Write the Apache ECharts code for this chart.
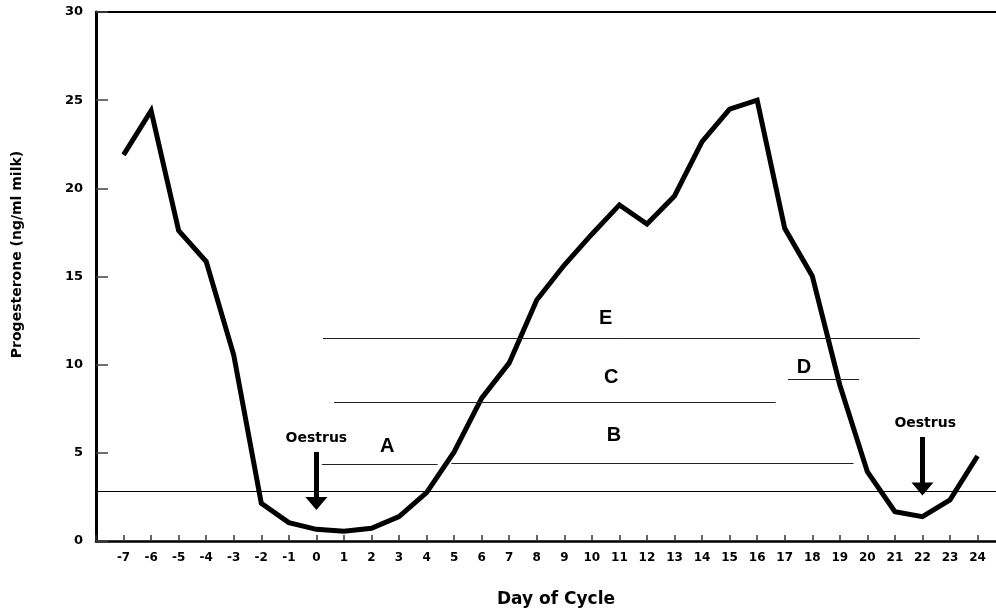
<!DOCTYPE html>
<html>
<head>
<meta charset="utf-8">
<script src="https://cdn.jsdelivr.net/npm/echarts@6/dist/echarts.min.js"></script>
<style>
  html, body { margin: 0; padding: 0; background: #fff; }
  #chart { width: 996px; height: 613px; }
</style>
</head>
<body>
<div id="chart"></div>
<script>
const days = [-7, -6, -5, -4, -3, -2, -1, 0, 1, 2, 3, 4, 5, 6, 7, 8, 9, 10, 11, 12, 13, 14, 15, 16, 17, 18, 19, 20, 21, 22, 23, 24];
const progesterone = [21.9, 24.4, 17.6, 15.85, 10.55, 2.14, 1.04, 0.66, 0.55, 0.72, 1.38, 2.74, 5.05, 8.1, 10.1, 13.67, 15.65, 17.4, 19.06, 17.98, 19.57, 22.65, 24.49, 25.0, 17.73, 15.03, 8.85, 3.93, 1.66, 1.38, 2.33, 4.82];

// threshold line across the whole cycle
const baselineLevel = 2.8;

// phase bars: label, start day, end day, level
const phaseNames = ['A', 'B', 'C', 'D', 'E'];
const phaseStart = [0.2, 4.9, 0.64, 17.12, 0.24];
const phaseEnd = [4.4, 19.5, 16.67, 19.7, 21.9];
const phaseLevel = [4.35, 4.4, 7.85, 9.15, 11.48];
const phaseLabelDay = [2.57, 10.8, 10.7, 17.7, 10.5];
const phaseLabelLevel = [5.35, 5.96, 9.3, 9.83, 12.6];

// oestrus arrows
const oestrusDays = [0, 22];
const arrowTop = [5.05, 5.9];
const arrowTip = [2.13, 2.95];
const oestrusLabelDay = [0, 22.1];
const oestrusLabelLevel = [5.84, 6.69];

const chart = echarts.init(document.getElementById('chart'));

const FONT = 'DejaVu Sans';

const seriesData = days.map((d, i) => [d, progesterone[i]]);

const thin = { type: 'solid', width: 1, color: '#222' };

const markLines = [
  [
    { coord: [-8, baselineLevel], lineStyle: { type: 'solid', width: 1, color: '#000' } },
    { coord: [24.67, baselineLevel] }
  ]
];
phaseNames.forEach((n, i) => {
  markLines.push([
    { coord: [phaseStart[i], phaseLevel[i]], lineStyle: thin },
    { coord: [phaseEnd[i], phaseLevel[i]] }
  ]);
});
oestrusDays.forEach((d, i) => {
  markLines.push([
    { coord: [d, arrowTop[i]], symbol: 'none', lineStyle: { type: 'solid', width: 5, color: '#000', cap: 'butt' } },
    { coord: [d, arrowTip[i]], symbol: 'triangle', symbolSize: [22, 13] }
  ]);
});

const textData = phaseNames.map((n, i) => ({
  name: n,
  value: [phaseLabelDay[i], phaseLabelLevel[i]],
  label: { fontSize: 20, fontWeight: 'bold', fontFamily: 'Liberation Sans', color: '#000' }
}));
oestrusDays.forEach((d, i) => {
  textData.push({
    name: 'Oestrus',
    value: [oestrusLabelDay[i], oestrusLabelLevel[i]],
    label: { fontSize: 14, fontWeight: 'bold', fontFamily: FONT, color: '#000' }
  });
});

const option = {
  animation: false,
  grid: { left: 96, right: 0, top: 12, bottom: 72, outerBoundsMode: 'none' },
  xAxis: [
    {
      type: 'value',
      min: -8,
      max: 24.67,
      interval: 1,
      name: 'Day of Cycle',
      nameLocation: 'middle',
      nameGap: 50,
      nameTextStyle: { fontFamily: FONT, fontWeight: 'bold', fontSize: 17, color: '#000', padding: [0, 0, 0, 20] },
      axisLine: { onZero: false, lineStyle: { color: '#000', width: 2.5 } },
      axisTick: { inside: true, length: 6, lineStyle: { color: '#333', width: 1.5 } },
      axisLabel: {
        margin: 11,
        fontFamily: FONT,
        fontWeight: 'bold',
        fontSize: 12,
        color: '#000',
        showMaxLabel: false,
        formatter: v => (Number.isInteger(v) && v > -8 ? String(v) : '')
      },
      splitLine: { show: false }
    },
    {
      type: 'value',
      position: 'top',
      min: -8,
      max: 24.67,
      axisLine: { show: true, onZero: false, lineStyle: { color: '#000', width: 2 } },
      axisTick: { show: false },
      axisLabel: { show: false },
      splitLine: { show: false }
    }
  ],
  yAxis: {
    type: 'value',
    min: 0,
    max: 30,
    interval: 5,
    name: 'Progesterone (ng/ml milk)',
    nameLocation: 'middle',
    nameGap: 72,
    nameTextStyle: { fontFamily: FONT, fontWeight: 'bold', fontSize: 14, color: '#000', padding: [0, 0, 0, 44] },
    axisLine: { show: true, onZero: false, lineStyle: { color: '#000', width: 3 } },
    axisTick: { inside: true, length: 12, lineStyle: { color: '#444', width: 1.5 } },
    axisLabel: { margin: 13, fontFamily: FONT, fontWeight: 'bold', fontSize: 13, color: '#000' },
    splitLine: { show: false }
  },
  series: [
    {
      type: 'line',
      data: seriesData,
      symbol: 'none',
      lineStyle: { color: '#000', width: 5, join: 'miter' },
      markLine: {
        silent: true,
        symbol: 'none',
        label: { show: false },
        data: markLines
      },
      z: 3
    },
    {
      type: 'scatter',
      data: textData,
      symbolSize: 0,
      silent: true,
      itemStyle: { opacity: 1, color: '#000' },
      label: {
        show: true,
        position: 'inside',
        color: '#000',
        formatter: p => p.name
      }
    }
  ]
};

chart.setOption(option);
window.addEventListener('resize', () => chart.resize());
</script>
</body>
</html>
